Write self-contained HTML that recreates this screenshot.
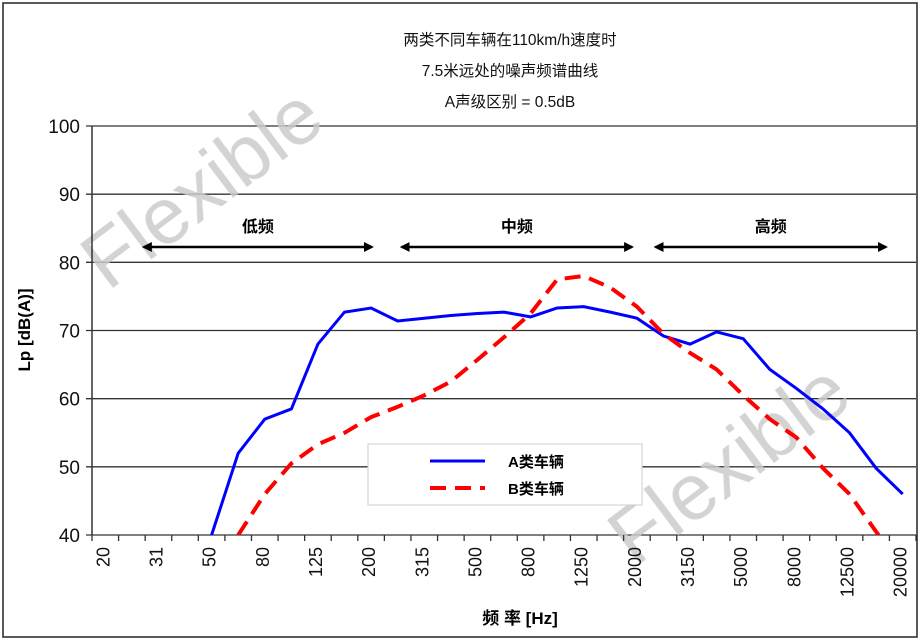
<!DOCTYPE html>
<html><head><meta charset="utf-8"><style>
html,body{margin:0;padding:0;background:#fff}
svg{display:block;font-family:"Liberation Sans","Noto Sans CJK SC",sans-serif}
</style></head><body>
<svg id="chart" width="921" height="640" viewBox="0 0 921 640">
<rect x="3" y="3" width="914" height="634" fill="#fff" stroke="#222" stroke-width="1.5"/>
<g font-family="'Liberation Sans','Noto Sans CJK SC',sans-serif" font-size="15.5" text-anchor="middle" fill="#111">
<text x="510" y="45">两类不同车辆在110km/h速度时</text>
<text x="510" y="76">7.5米远处的噪声频谱曲线</text>
<text x="510" y="107">A声级区别 = 0.5dB</text>
</g>
<g id="grid"></g>
<g id="watermark" font-size="80" fill="#ccc" opacity="0.85">
<text transform="translate(108,292) rotate(-37)">Flexible</text>
<text transform="translate(635,568) rotate(-37)">Flexible</text>
</g>
<g id="bands"></g>
<g id="series"></g>
<g id="axes"></g>
<g>
<rect x="368" y="444" width="274" height="61" fill="#fff" stroke="#ccc"/>
<g><line x1="430" y1="461" x2="485" y2="461" stroke="#0000ff" stroke-width="3"/><text x="508" y="467" font-size="15" font-weight="bold">A类车辆</text></g>
<g><line x1="430" y1="488" x2="485" y2="488" stroke="#ff0000" stroke-width="4" stroke-dasharray="16,9"/><text x="508" y="494" font-size="15" font-weight="bold">B类车辆</text></g>
</g>
<text transform="translate(30,330) rotate(-90)" text-anchor="middle" font-size="17" font-weight="bold">Lp [dB(A)]</text>
<text x="520" y="624" text-anchor="middle" font-size="17" font-weight="bold">频 率 [Hz]</text>
</svg>
<script>
const categories=["20","25","31","40","50","63","80","100","125","160","200","250","315","400","500","630","800","1000","1250","1600","2000","2500","3150","4000","5000","6300","8000","10000","12500","16000","20000"];
const seriesA=[null,null,null,null,40,52,57,58.5,68,72.7,73.3,71.4,71.8,72.2,72.5,72.7,72,73.3,73.5,72.7,71.8,69.2,68,69.8,68.8,64.3,61.5,58.5,55,49.8,46];
const seriesB=[null,null,null,null,null,40,46,50.5,53.3,55,57.3,58.8,60.5,62.5,65.7,69,72.5,77.5,78,76.3,73.5,69.5,66.7,64.3,60.5,57,54.3,49.8,46,40.5,35];
const yTicks=[40,50,60,70,80,90,100];
const xLabelEvery=2;
const bandLabels=["低频","中频","高频"];
const bandStarts=[1.8,11.5,21.05];
const bandEnds=[10.68,20.47,30.02];

const NS="http://www.w3.org/2000/svg";
const X0=92,X1=916,Y0=535,Y1=126,YMIN=40,YMAX=100;
const cw=(X1-X0)/categories.length;
const xc=i=>X0+cw*(i+0.5);
const xe=i=>X0+cw*i;
const y=v=>Y0-(v-YMIN)/(YMAX-YMIN)*(Y0-Y1);
function mk(tag,attrs,parent){const e=document.createElementNS(NS,tag);for(const k in attrs)e.setAttribute(k,attrs[k]);parent.appendChild(e);return e;}
const grid=document.getElementById('grid'),axes=document.getElementById('axes'),series=document.getElementById('series'),bands=document.getElementById('bands');
yTicks.forEach(v=>{
 const l=mk('line',{x1:X0-6,x2:X1,y1:y(v),y2:y(v),stroke:'#333','stroke-width':1.3},grid);
 
 
 const t=mk('text',{x:X0-12,y:y(v)+7,'text-anchor':'end','font-size':19,fill:'#111'},axes);
 t.textContent=v;
 
 
});
mk('line',{x1:X0,x2:X0,y1:Y1,y2:Y0,stroke:'#333','stroke-width':1.5},axes);
for(let i=0;i<=categories.length;i++){
 const tk=mk('line',{x1:xe(i),x2:xe(i),y1:Y0,y2:Y0+6,stroke:'#333','stroke-width':1.3},axes);
 
 
}
categories.forEach((c,i)=>{
 if(i%xLabelEvery!==0)return;
 const t=mk('text',{transform:`translate(${xc(i)+4},${Y0+12}) rotate(-90)`,'text-anchor':'end','font-size':18,fill:'#111'},axes);
 t.textContent=c;
 
 
});
const defs=mk('defs',{},document.getElementById('chart'));
const cp=mk('clipPath',{id:'pc'},defs);mk('rect',{x:X0,y:Y1,width:X1-X0,height:Y0-Y1},cp);
const mar=mk('marker',{id:'ah',markerWidth:10,markerHeight:10,refX:8,refY:5,orient:'auto-start-reverse',markerUnits:'userSpaceOnUse'},defs);
mk('path',{d:'M0,0 L10,5 L0,10 Z',fill:'#000'},mar);
bandLabels.forEach((b,k)=>{
 const a=xe(bandStarts[k]),e=xe(bandEnds[k]);
 const l=mk('line',{x1:a+4,x2:e-4,y1:247,y2:247,stroke:'#000','stroke-width':2.5,'marker-start':'url(#ah)','marker-end':'url(#ah)'},bands);
 
 
 const t=mk('text',{x:(a+e)/2,y:232,'text-anchor':'middle','font-size':16,'font-weight':'bold'},bands);
 t.textContent=b;
 
 
});
function path(d){let s='',pen=false;d.forEach((v,i)=>{if(v==null){pen=false;return;}s+=(pen?'L':'M')+xc(i).toFixed(1)+','+y(v).toFixed(1)+' ';pen=true;});return s;}
const pa=mk('path',{d:path(seriesA),fill:'none',stroke:'#0000ff','stroke-width':3,'clip-path':'url(#pc)'},series);


const pb=mk('path',{d:path(seriesB),fill:'none',stroke:'#ff0000','stroke-width':4,'stroke-dasharray':'16,9','clip-path':'url(#pc)'},series);


</script>
</body></html>
